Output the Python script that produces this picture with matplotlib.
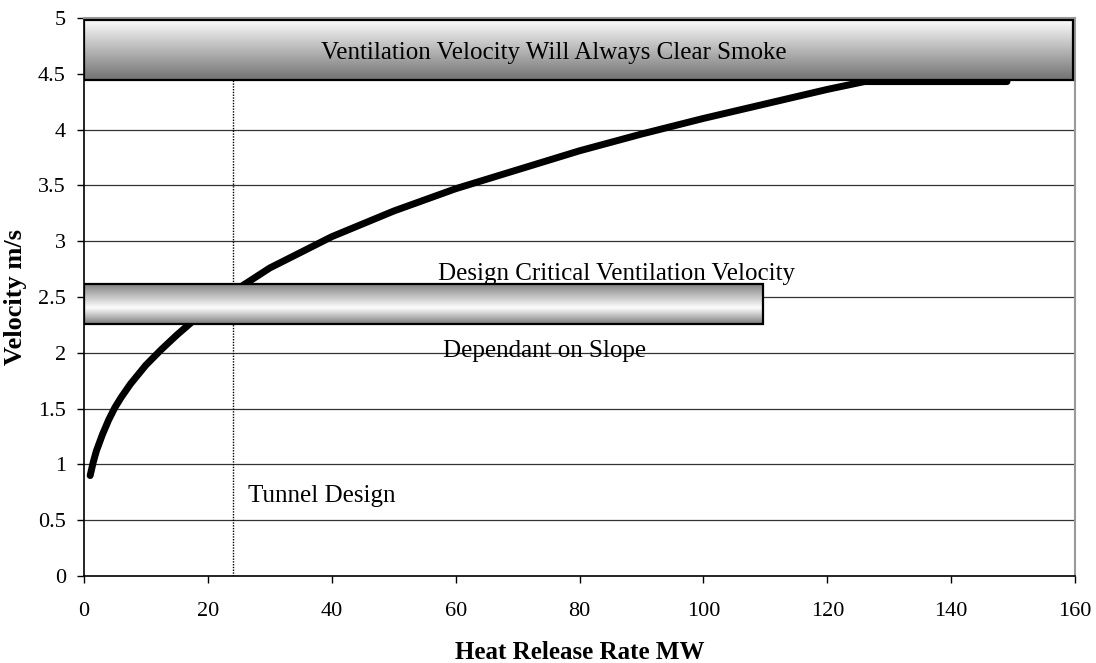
import numpy as np
import matplotlib.pyplot as plt
from matplotlib.patches import Rectangle

plt.rcParams['font.family'] = ['Liberation Serif', 'DejaVu Serif']

# critical velocity curve
hrr = [1, 1.5, 2, 3, 4, 5, 6, 7.5, 10, 12.5, 15, 17.5, 20, 25, 30, 40, 50,
       60, 70, 80, 90, 100, 110, 120, 126, 130, 140, 149]
velocity = [0.90, 1.02, 1.12, 1.27, 1.40, 1.51, 1.60, 1.72, 1.89, 2.03, 2.16,
            2.28, 2.38, 2.58, 2.76, 3.04, 3.27, 3.47, 3.64, 3.81, 3.96, 4.10,
            4.23, 4.36, 4.43, 4.43, 4.43, 4.43]

tunnel_design_hrr = 24
# bands: (x0, x1, y0, y1)
clear_band = (0, 159.6, 4.445, 4.98)
design_band = (0, 109.6, 2.26, 2.62)

x_ticks = np.arange(0, 161, 20)
y_ticks = np.arange(0, 5.01, 0.5)
y_labels = ['0', '0.5', '1', '1.5', '2', '2.5', '3', '3.5', '4', '4.5', '5']


def gradient_box(ax, box, profile, z):
    x0, x1, y0, y1 = box
    img = np.array(profile).reshape(-1, 1)
    ax.imshow(img, cmap='gray', vmin=0, vmax=1, aspect='auto',
              extent=(x0, x1, y0, y1), origin='upper', zorder=z,
              interpolation='bicubic')
    ax.add_patch(Rectangle((x0, y0), x1 - x0, y1 - y0, fill=False,
                           edgecolor='black', linewidth=1.6, zorder=z + 0.1))


fig = plt.figure(figsize=(10.96, 6.63), dpi=100)
ax = fig.add_axes([0.0766, 0.1312, 0.9044, 0.8417])

for y in y_ticks[1:-1]:
    ax.axhline(y, color='#333333', linewidth=0.9, zorder=1)

ax.plot(hrr, velocity, color='black', linewidth=5, solid_capstyle='round',
        solid_joinstyle='round', zorder=3)
ax.plot([tunnel_design_hrr, tunnel_design_hrr], [0, clear_band[2]],
        color='black', linestyle=(0, (1, 1)), linewidth=1.0, zorder=2)

top_profile = np.linspace(0.98, 0.45, 60)
mid_profile = np.concatenate([np.linspace(0.5, 0.98, 30),
                              np.linspace(0.98, 0.5, 20)])
gradient_box(ax, clear_band, top_profile, 4)
gradient_box(ax, design_band, mid_profile, 4)

ax.text(38.3, 4.63, 'Ventilation Velocity Will Always Clear Smoke',
        ha='left', va='baseline', fontsize=18, zorder=6)
ax.text(57.2, 2.65, 'Design Critical Ventilation Velocity',
        ha='left', va='baseline', fontsize=18, zorder=6)
ax.text(58, 1.965, 'Dependant on Slope', ha='left', va='baseline',
        fontsize=18, zorder=6)
ax.text(26.5, 0.66, 'Tunnel Design', ha='left', va='baseline', fontsize=18,
        zorder=6)

ax.set_xlim(0, 160)
ax.set_ylim(0, 5)
ax.set_xticks(x_ticks)
ax.set_yticks(y_ticks)
ax.set_yticklabels(y_labels)
ax.tick_params(direction='out', length=5, width=1, labelsize=16)
ax.tick_params(axis='x', pad=14)
ax.tick_params(axis='y', pad=8)

for s in ['top', 'right']:
    ax.spines[s].set_color('#999999')
    ax.spines[s].set_linewidth(1.5)
for s in ['left', 'bottom']:
    ax.spines[s].set_color('black')
    ax.spines[s].set_linewidth(1.2)

ax.set_xlabel('Heat Release Rate MW', fontsize=18, fontweight='bold',
              labelpad=14)
ax.set_ylabel('Velocity m/s', fontsize=19, fontweight='bold', labelpad=8)

fig.savefig('out.png', dpi=100)
